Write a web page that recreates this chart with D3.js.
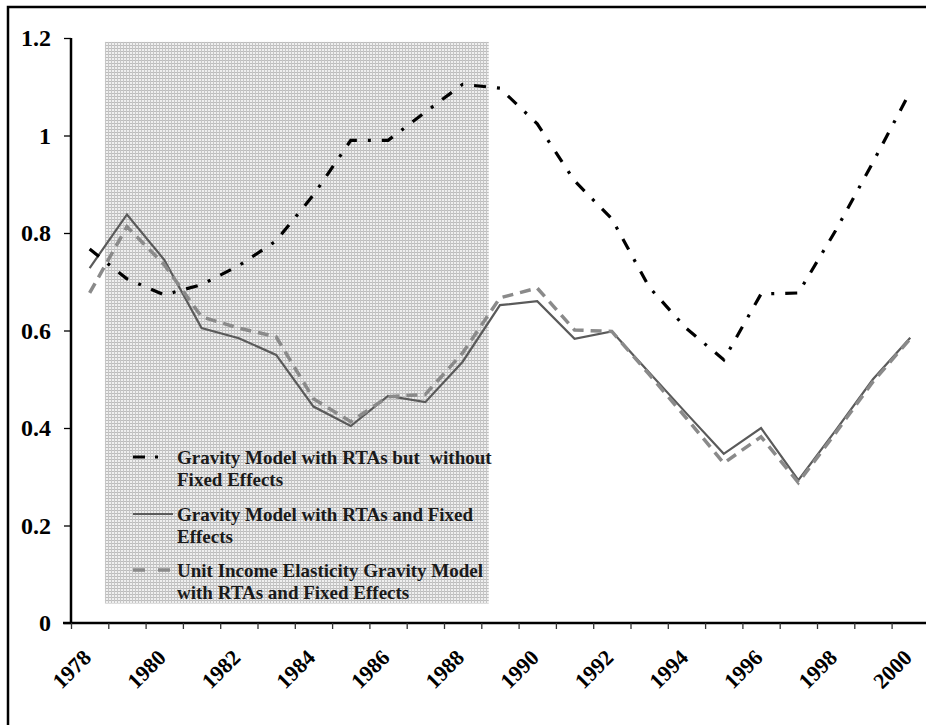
<!DOCTYPE html>
<html>
<head>
<meta charset="utf-8">
<script src="https://cdn.jsdelivr.net/npm/d3@7"></script>
<style>
  html, body { margin: 0; padding: 0; background: #fff; overflow: hidden; }
  svg { display: block; }
  text { font-family: "Liberation Serif", "Times New Roman", serif; font-weight: bold; }
</style>
</head>
<body>
<div id="canvas"></div>
<script>
(function (d3) {
  'use strict';

  const width = 926;
  const height = 725;

  // data
  const years = d3.range(1978, 2001);
  const noFixedEffects = [0.767, 0.706, 0.673, 0.694, 0.733, 0.784, 0.878, 0.99, 0.99, 1.048, 1.105, 1.097, 1.024,
    0.907, 0.829, 0.689, 0.604, 0.54, 0.675, 0.677, 0.805, 0.945, 1.09];
  const withFixedEffects = [0.728, 0.838, 0.745, 0.605, 0.584, 0.55, 0.444, 0.404, 0.466, 0.453, 0.536, 0.652, 0.66,
    0.583, 0.598, 0.514, 0.43, 0.347, 0.4, 0.293, 0.395, 0.5, 0.585];
  const unitElasticity = [0.677, 0.813, 0.735, 0.628, 0.605, 0.587, 0.46, 0.413, 0.464, 0.469, 0.554, 0.667, 0.687,
    0.601, 0.598, 0.51, 0.42, 0.328, 0.382, 0.288, 0.39, 0.495, 0.583];
  const yTicks = [0, 0.2, 0.4, 0.6, 0.8, 1, 1.2];
  const xLabels = years.filter(y => y % 2 === 0);
  const legendLabels = [
    ['Gravity Model with RTAs but\u00a0 without', 'Fixed Effects'],
    ['Gravity Model with RTAs and Fixed', 'Effects'],
    ['Unit Income Elasticity Gravity Model', 'with RTAs and Fixed Effects']
  ];
  // shaded period, in category units / values
  const shadeCat = [0.91, 11.2];
  const shadeVal = [0.04, 1.192];

  const svg = d3.select('#canvas')
    .append('svg')
    .attr('width', width)
    .attr('height', height);

  // grid fill for the shaded box
  const pat = svg.append('defs').append('pattern')
    .attr('id', 'grid')
    .attr('width', 3).attr('height', 3)
    .attr('patternUnits', 'userSpaceOnUse');
  pat.append('rect').attr('width', 3).attr('height', 3).attr('fill', '#efefef');
  pat.append('rect').attr('width', 3).attr('height', 1).attr('fill', '#bcbcbc');
  pat.append('rect').attr('width', 1).attr('height', 3).attr('fill', '#c6c6c6');

  // outer frame (only top and left edges are inside the picture)
  svg.append('path')
    .attr('d', `M8,${height + 5}V7H${width + 5}`)
    .attr('fill', 'none')
    .attr('stroke', 'black')
    .attr('stroke-width', 2.5);

  const left = 71, right = 71 + 23 * 37.3;
  const top = 38, bottom = 623;

  const x = d3.scaleBand().domain(years).range([left, right]).padding(0);
  const xc = d3.scaleLinear().domain([0, years.length]).range([left, right]);
  const y = d3.scaleLinear().domain([0, 1.2]).range([bottom, top]);

  // shaded box
  svg.append('rect')
    .attr('x', xc(shadeCat[0]))
    .attr('y', y(shadeVal[1]))
    .attr('width', xc(shadeCat[1]) - xc(shadeCat[0]))
    .attr('height', y(shadeVal[0]) - y(shadeVal[1]))
    .attr('fill', 'url(#grid)');

  // y axis
  const yAxis = svg.append('g')
    .attr('transform', `translate(${left},0)`)
    .call(d3.axisLeft(y).tickValues(yTicks).tickSize(7).tickPadding(13)
      .tickFormat(d => d3.format('')(+d.toFixed(1))));
  yAxis.select('.domain').attr('stroke-width', 2.5).attr('d', `M0,${bottom}V${top}`);
  yAxis.selectAll('.tick line').attr('stroke-width', 1.3);
  yAxis.selectAll('.tick text')
    .attr('font-size', '24px')
    .attr('font-family', '"Liberation Serif", serif')
    .attr('font-weight', 'bold')
    .attr('fill', '#000');

  // x axis: ticks between categories
  const xAxis = svg.append('g')
    .attr('transform', `translate(0,${bottom})`)
    .call(d3.axisBottom(xc).tickValues(d3.range(0, years.length)).tickSize(6).tickFormat(''));
  xAxis.select('.domain').attr('stroke-width', 2.5).attr('d', `M${left - 8},0H${width + 10}`);
  xAxis.selectAll('.tick line').attr('stroke-width', 1.3).attr('stroke', '#333');

  svg.append('g')
    .selectAll('text')
    .data(xLabels)
    .enter()
    .append('text')
    .attr('transform', d => `translate(${x(d) + x.bandwidth() / 2 + 3},${bottom + 36}) rotate(-45)`)
    .attr('text-anchor', 'end')
    .attr('font-size', '22px')
    .attr('fill', '#000')
    .text(d => d);

  // lines
  const line = d3.line()
    .x((d, i) => x(years[i]) + x.bandwidth() / 2)
    .y(d => y(d));

  svg.append('path')
    .datum(withFixedEffects)
    .attr('d', line)
    .attr('fill', 'none')
    .attr('stroke', '#5a5a5a')
    .attr('stroke-width', 2.2);

  svg.append('path')
    .datum(unitElasticity)
    .attr('d', line)
    .attr('fill', 'none')
    .attr('stroke', '#8a8a8a')
    .attr('stroke-width', 3.5)
    .attr('stroke-dasharray', '11,7');

  svg.append('path')
    .datum(noFixedEffects)
    .attr('d', line)
    .attr('fill', 'none')
    .attr('stroke', '#000')
    .attr('stroke-width', 3.2)
    .attr('stroke-dasharray', '12,11,3,11');

  // Legend
  const legendX = 133;
  const legendY = [457, 514, 570];
  const legendStyles = [
    { stroke: '#000', width: 3.2, dash: '12,10,3,20' },
    { stroke: '#5a5a5a', width: 2.2, dash: null },
    { stroke: '#8a8a8a', width: 3.5, dash: '12,13' }
  ];
  legendStyles.forEach((s, i) => {
    svg.append('line')
      .attr('x1', legendX).attr('x2', legendX + 40)
      .attr('y1', legendY[i]).attr('y2', legendY[i])
      .attr('stroke', s.stroke)
      .attr('stroke-width', s.width)
      .attr('stroke-dasharray', s.dash);
    const t = svg.append('text')
      .attr('x', legendX + 44)
      .attr('y', legendY[i] + 6.5)
      .attr('font-size', '19px')
      .attr('fill', '#1a1a1a');
    legendLabels[i].forEach((l, j) => {
      t.append('tspan')
        .attr('x', legendX + 44)
        .attr('dy', j === 0 ? 0 : 22)
        .text(l);
    });
  });

}(d3));
</script>
</body>
</html>
